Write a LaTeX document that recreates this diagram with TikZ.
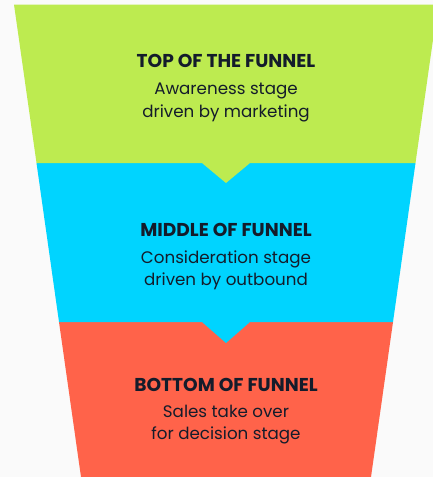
\documentclass[tikz,border=0pt]{standalone}
\usepackage{fontspec}
\setmainfont{Poppins}
\usepackage{xcolor}
\definecolor{tofu}{HTML}{BDEB50}
\definecolor{mofu}{HTML}{00D4FF}
\definecolor{bofu}{HTML}{FF634A}
\definecolor{ink}{HTML}{141C2B}
\definecolor{paper}{HTML}{FAFAFA}

\begin{document}
\begin{tikzpicture}[x=1pt,y=-1pt,
    head/.style={anchor=base,text=ink,font=\bfseries\fontsize{18.6}{22}\selectfont},
    sub/.style={anchor=base,text=ink,font=\fontsize{16.7}{20}\selectfont}]
  \fill[paper] (0,0) rectangle (433,477);
  \useasboundingbox (0,0) rectangle (433,477);

  % funnel layers, bottom one first
  \fill[bofu] (59,322) -- (393,322) -- (371,477) -- (81,477) -- cycle;
  \fill[mofu] (36.5,163) -- (415.5,163) -- (393,322)
    -- (250,322) -- (226,343) -- (202,322) -- (59,322) -- cycle;
  \fill[tofu] (14,4.5) -- (438,4.5) -- (415.5,163)
    -- (250,163) -- (226,183) -- (202,163) -- (36.5,163) -- cycle;

  \draw (226,67)
    node (toph) [head] {TOP OF THE FUNNEL} ++(0,27)
    node (topa) [sub] {Awareness stage} ++(0,23)
    node (topb) [sub] {driven by marketing}
    ;
  \draw (226,236)
    node (midh) [head] {MIDDLE OF FUNNEL} ++(0,27)
    node (mida) [sub] {Consideration stage} ++(0,22)
    node (midb) [sub] {driven by outbound}
    ;
  \draw (226,391)
    node (both) [head] {BOTTOM OF FUNNEL} ++(0,26)
    node (bota) [sub] {Sales take over} ++(0,22)
    node (botb) [sub] {for decision stage}
    ;
\end{tikzpicture}
\end{document}
